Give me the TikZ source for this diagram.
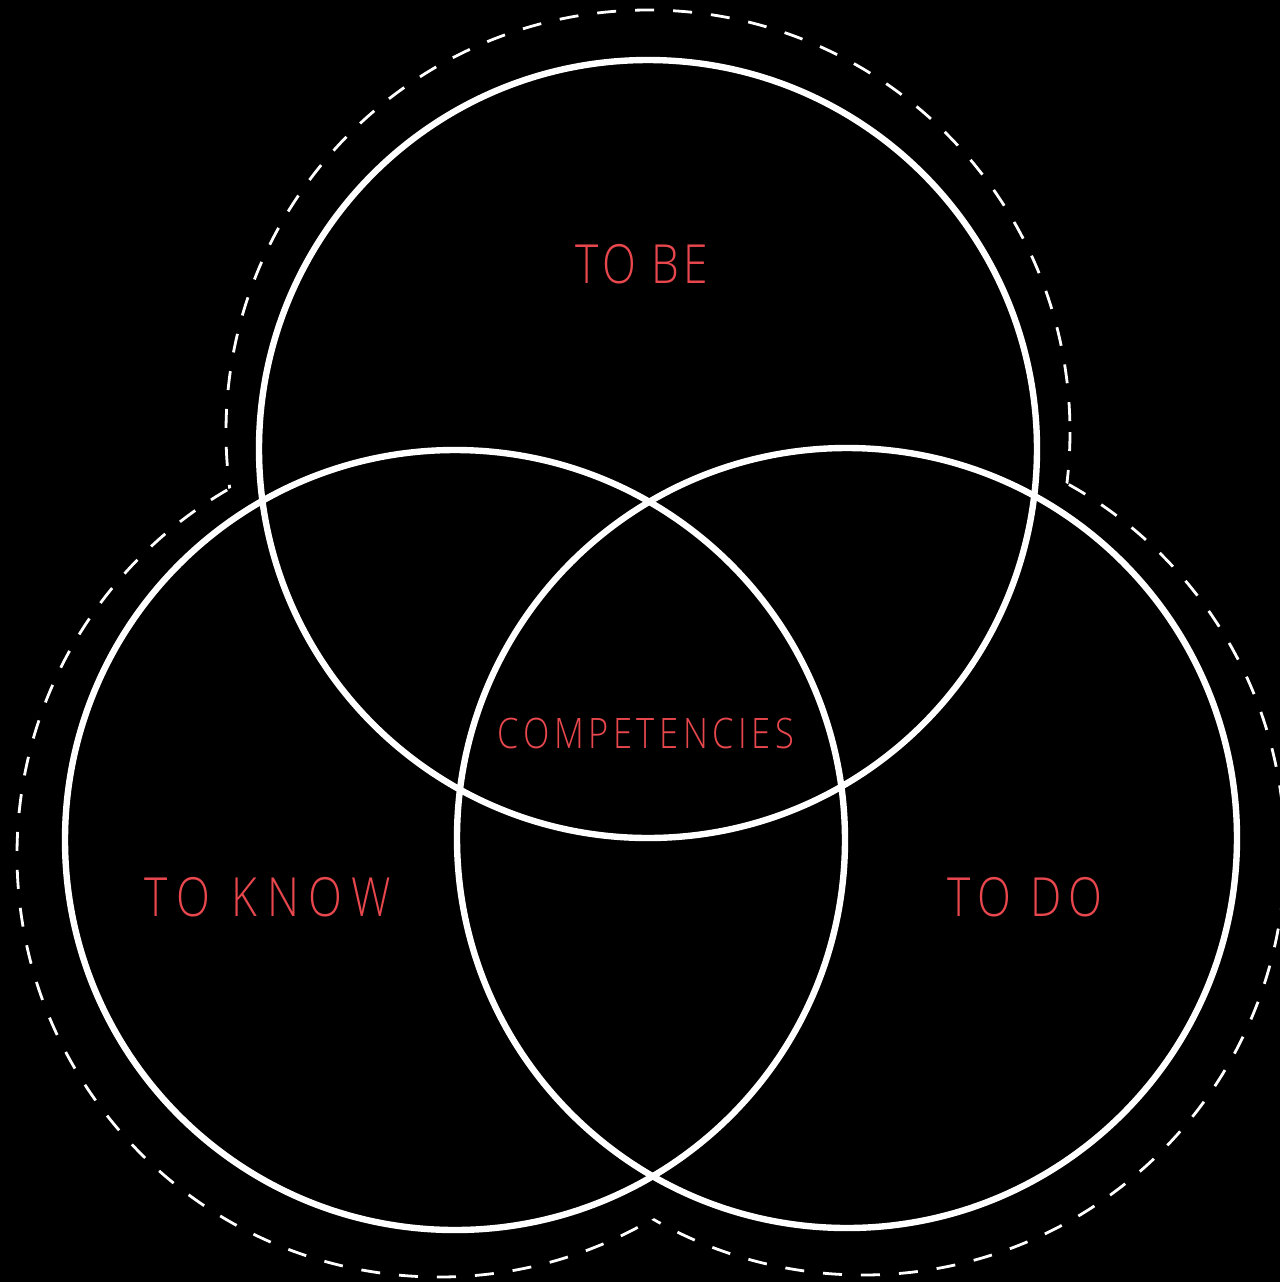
\documentclass[tikz,border=0pt]{standalone}
\usepackage{fontspec}
\newfontfamily\lbl[FakeStretch=0.82]{Open Sans Light}
\definecolor{lblred}{HTML}{E8474D}
\begin{document}
\begin{tikzpicture}[x=0.5pt,y=-0.5pt,
  ring/.style={draw=white,line width=3.2pt},
  outline/.style={draw=white,line width=1.4pt,dash pattern=on 9.5pt off 9.5pt},
  lab/.style={text=lblred,inner sep=0pt,anchor=center}]
\fill[black] (0,0) rectangle (1280,1282);
\useasboundingbox (0,0) rectangle (1280,1282);
\coordinate (ct) at (648,449);
\coordinate (cl) at (455,840);
\coordinate (cr) at (847,838);
\coordinate (dt) at (648,432);
\coordinate (dl) at (439,855);
\coordinate (dr) at (863,853);
% dashed outer outline (union of enlarged circles)
\begin{scope}[even odd rule]
  \clip (-20,-20) rectangle (1300,1302) (dl) circle[radius=422];
  \begin{scope}[even odd rule]
    \clip (-20,-20) rectangle (1300,1302) (dr) circle[radius=422];
    \draw[outline] (dt) circle[radius=422];
  \end{scope}
\end{scope}
\begin{scope}[even odd rule]
  \clip (-20,-20) rectangle (1300,1302) (dt) circle[radius=422];
  \begin{scope}[even odd rule]
    \clip (-20,-20) rectangle (1300,1302) (dr) circle[radius=422];
    \draw[outline] (dl) circle[radius=422];
  \end{scope}
\end{scope}
\begin{scope}[even odd rule]
  \clip (-20,-20) rectangle (1300,1302) (dt) circle[radius=422];
  \begin{scope}[even odd rule]
    \clip (-20,-20) rectangle (1300,1302) (dl) circle[radius=422];
    \draw[outline] (dr) circle[radius=422];
  \end{scope}
\end{scope}
% main circles
\draw[ring] (ct) circle[radius=389];
\draw[ring] (cl) circle[radius=390];
\draw[ring] (cr) circle[radius=390];
% labels
\node[lab,font=\lbl\fontsize{27}{30}\selectfont\addfontfeature{LetterSpace=8}] (tobe) at (642,264) {TO BE};
\node[lab,font=\lbl\fontsize{21}{24}\selectfont\addfontfeature{LetterSpace=11}] (comp) at (646,733) {COMPETENCIES};
\node[lab,font=\lbl\fontsize{27}{30}\selectfont\addfontfeature{LetterSpace=18}] (know) at (268,897) {TO KNOW};
\node[lab,font=\lbl\fontsize{27}{30}\selectfont\addfontfeature{LetterSpace=14}] (todo) at (1025,897) {TO DO};
\end{tikzpicture}
\end{document}
